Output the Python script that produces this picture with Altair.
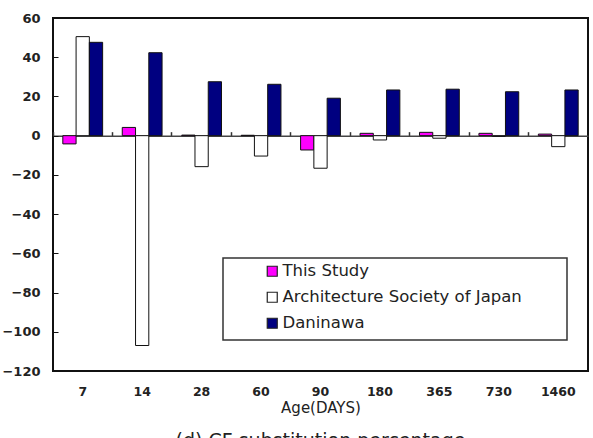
import altair as alt
import pandas as pd

# Curing age (days) and the deviation of each prediction, in percent
ages = ["7", "14", "28", "60", "90", "180", "365", "730", "1460"]
this_study = [-4.2, 4.2, 0.3, 0.2, -7.3, 1.2, 1.7, 1.2, 0.8]
arch_society_japan = [50.5, -107.0, -15.8, -10.4, -16.6, -2.2, -1.3, -0.4, -5.6]
daninawa = [47.6, 42.3, 27.5, 26.2, 19.1, 23.3, 23.7, 22.4, 23.3]

series_names = ["This Study", "Architecture Society of Japan", "Daninawa"]
series_colors = ["#FF00FF", "#FFFFFF", "#000080"]
y_ticks = [-120, -100, -80, -60, -40, -20, 0, 20, 40, 60]

rows = []
for name, vals in zip(series_names, [this_study, arch_society_japan, daninawa]):
    for age, v in zip(ages, vals):
        rows.append({"age": age, "series": name, "value": v})
df = pd.DataFrame(rows)

FONT = "DejaVu Sans"
W, H = 535, 353
zero_px = H * 60 / 180  # pixel height of y = 0 inside the plot

y_scale = alt.Scale(domain=[-120, 60], nice=False, zero=False)
x_scale = alt.Scale(paddingInner=0, paddingOuter=0)

bars = alt.Chart(df).mark_bar(stroke="#111111", strokeWidth=1).encode(
    x=alt.X("age:N", sort=ages, scale=x_scale,
            axis=alt.Axis(orient="bottom", title="Age(DAYS)", labelAngle=0,
                          ticks=False, domain=False, labelPadding=14,
                          labelFontSize=12.5, labelFontWeight="bold",
                          labelColor="#222222", titleFontSize=15,
                          titleFontWeight="normal", titleColor="#222222",
                          titlePadding=3)),
    xOffset=alt.XOffset("series:N", sort=series_names,
                        scale=alt.Scale(paddingInner=0, paddingOuter=0.74)),
    y=alt.Y("value:Q", scale=y_scale,
            axis=alt.Axis(orient="left", values=y_ticks, grid=False,
                          ticks=False, domain=False, labelPadding=13,
                          labelFontSize=13, labelFontWeight="bold",
                          labelColor="#222222", title=None)),
    fill=alt.Fill("series:N", sort=series_names,
                  scale=alt.Scale(domain=series_names, range=series_colors),
                  legend=alt.Legend(orient="none", legendX=211, legendY=245,
                                    title=None, symbolType="square",
                                    symbolSize=100, symbolStrokeWidth=1.2,
                                    symbolStrokeColor="#222222",
                                    labelFontSize=16.5, labelColor="#222222",
                                    labelFont=FONT, rowPadding=9,
                                    labelOffset=2, padding=0,
                                    labelLimit=400)),
)

# Frame around the legend entries
legend_box = alt.Chart(alt.Data(values=[{}])).mark_rect(
    fill="white", stroke="#333333", strokeWidth=1.5
).encode(
    x=alt.value(170), x2=alt.value(514),
    y=alt.value(240), y2=alt.value(322),
)

# Zero line with category separators, and inner y ticks
guides = alt.Chart(df).mark_point(opacity=0).encode(
    x=alt.X("age:N", sort=ages, scale=x_scale,
            axis=alt.Axis(orient="top", offset=-zero_px, labels=False,
                          title=None, ticks=True, tickSize=4, tickWidth=1.5,
                          bandPosition=0, tickColor="#333333",
                          domainColor="#444444", domainWidth=1.5)),
    y=alt.Y("value:Q", scale=y_scale,
            axis=alt.Axis(orient="right", offset=-W, values=y_ticks,
                          labels=False, title=None, domain=False,
                          grid=False, ticks=True, tickSize=5,
                          tickColor="#111111")),
)

chart = alt.layer(bars, legend_box, guides).resolve_axis(
    x="independent", y="independent"
).properties(
    width=W, height=H,
    autosize=alt.AutoSizeParams(type="none"),
    padding={"left": 53, "top": 18, "right": 5, "bottom": 67},
    title=alt.TitleParams("(d) CF substitution percentage", orient="bottom",
                          fontSize=19, fontWeight="normal", color="#222222",
                          font=FONT, offset=16),
).configure(
    font=FONT,
    background="white",
).configure_view(
    stroke="#111111", strokeWidth=2,
)

chart.save("out.html", embed_options={"renderer": "svg", "actions": False})
